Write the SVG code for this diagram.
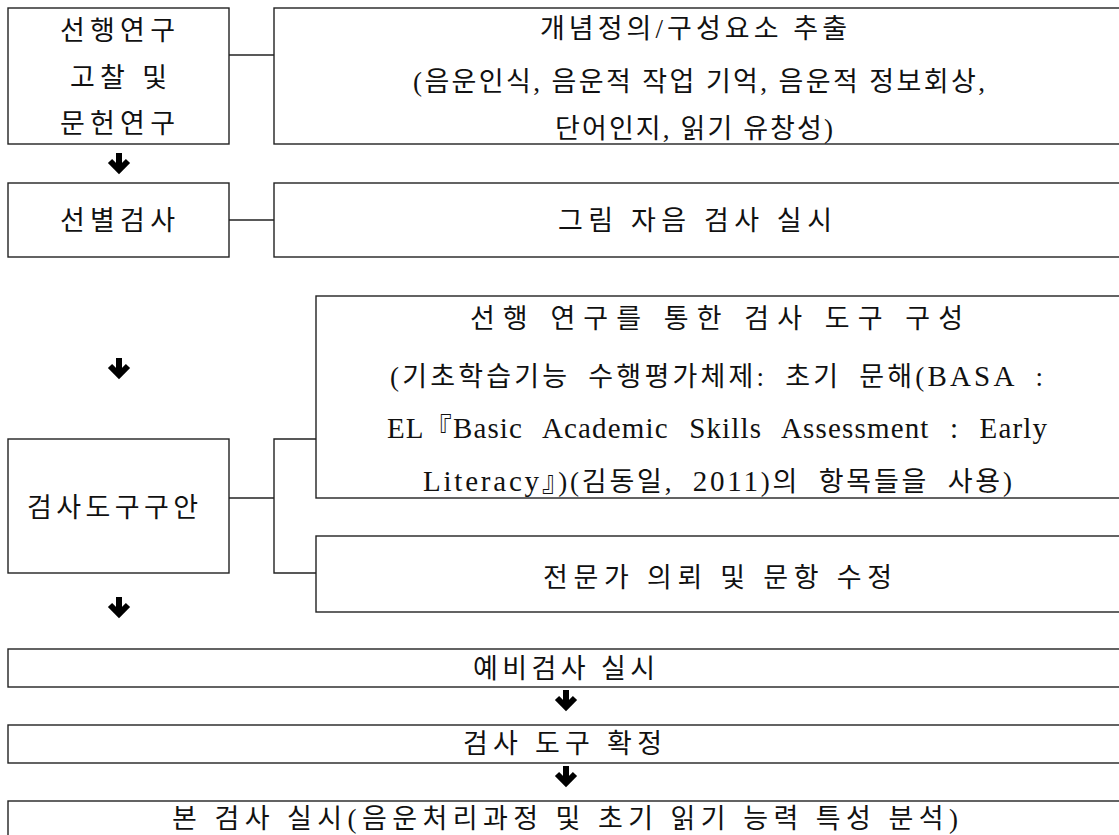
<svg xmlns="http://www.w3.org/2000/svg" xmlns:xlink="http://www.w3.org/1999/xlink" width="1119" height="835" viewBox="0 0 1119 835">
<style>
  .box { fill: #ffffff; stroke: #222222; stroke-width: 1.4; }
  .con { fill: none; stroke: #222222; stroke-width: 1.4; }
  .t { font-family: 'Liberation Serif', 'Noto Sans CJK KR', serif; font-size: 27px; fill: #111111; }
  .lat { font-size: 29px; }
  .arr { fill: none; stroke: #000000; stroke-width: 6; stroke-linejoin: miter; stroke-linecap: butt; }
</style>
<defs>
  <path id="arrow" class="arr" d="M0,0 V16 M-9,8 L0,17 L9,8"/>
</defs>
<rect width="1119" height="835" fill="#ffffff"/>

<g id="connectors">
  <line class="con" x1="229" y1="55" x2="274" y2="55"/>
  <line class="con" x1="229" y1="220" x2="274" y2="220"/>
  <line class="con" x1="229" y1="498" x2="274" y2="498"/>
  <polyline class="con" points="316,439 274,439 274,573 316,573"/>
  <use xlink:href="#arrow" href="#arrow" x="119" y="153"/>
  <use xlink:href="#arrow" href="#arrow" x="119" y="358"/>
  <use xlink:href="#arrow" href="#arrow" x="119" y="597"/>
  <use xlink:href="#arrow" href="#arrow" x="566" y="690"/>
  <use xlink:href="#arrow" href="#arrow" x="566" y="766"/>
</g>

<g id="n-prior-study">
  <rect class="box" x="8" y="8" width="221" height="136"/>
  <text class="t" x="60" y="40" textLength="115">선행연구</text>
  <text class="t" x="70" y="87" textLength="97">고찰 및</text>
  <text class="t" x="60" y="133" textLength="115">문헌연구</text>
</g>

<g id="n-concept">
  <rect class="box" x="274" y="8" width="860" height="136"/>
  <text class="t" x="540" y="38" textLength="307">개념정의/구성요소 추출</text>
  <text class="t" x="413" y="91" textLength="572">(음운인식, 음운적 작업 기억, 음운적 정보회상,</text>
  <text class="t" x="555" y="138" textLength="278">단어인지, 읽기 유창성)</text>
</g>

<g id="n-screening">
  <rect class="box" x="8" y="183" width="221" height="74"/>
  <text class="t" x="60" y="230" textLength="115">선별검사</text>
</g>

<g id="n-picture-test">
  <rect class="box" x="274" y="183" width="860" height="74"/>
  <text class="t" x="558" y="230" textLength="274">그림 자음 검사 실시</text>
</g>

<g id="n-tool-draft">
  <rect class="box" x="8" y="439" width="221" height="134"/>
  <text class="t" x="27" y="517" textLength="171">검사도구구안</text>
</g>

<g id="n-tool-compose">
  <rect class="box" x="316" y="296" width="820" height="202"/>
  <text class="t" x="470" y="328" textLength="493">선행 연구를 통한 검사 도구 구성</text>
  <text class="t" x="390" y="386" word-spacing="8" textLength="653">(기초학습기능 수행평가체제: 초기 문해(<tspan class="lat">BASA</tspan> :</text>
  <text class="t" x="387" y="438" textLength="660"><tspan class="lat">EL</tspan>『<tspan class="lat" word-spacing="12">Basic Academic Skills Assessment : Early</tspan></text>
  <text class="t" x="423" y="491" word-spacing="9" textLength="589"><tspan class="lat">Literacy</tspan>』)(김동일, <tspan class="lat">2011</tspan>)의 항목들을 사용)</text>
</g>

<g id="n-expert">
  <rect class="box" x="316" y="536" width="820" height="76"/>
  <text class="t" x="543" y="587" textLength="349">전문가 의뢰 및 문항 수정</text>
</g>

<g id="n-pilot">
  <rect class="box" x="8" y="649" width="1125" height="38"/>
  <text class="t" x="473" y="678" textLength="182">예비검사 실시</text>
</g>

<g id="n-confirm">
  <rect class="box" x="8" y="725" width="1125" height="38"/>
  <text class="t" x="463" y="753" textLength="199">검사 도구 확정</text>
</g>

<g id="n-main">
  <rect class="box" x="8" y="801" width="1125" height="50"/>
  <text class="t" x="172" y="828" textLength="786">본 검사 실시(음운처리과정 및 초기 읽기 능력 특성 분석)</text>
</g>
</svg>
